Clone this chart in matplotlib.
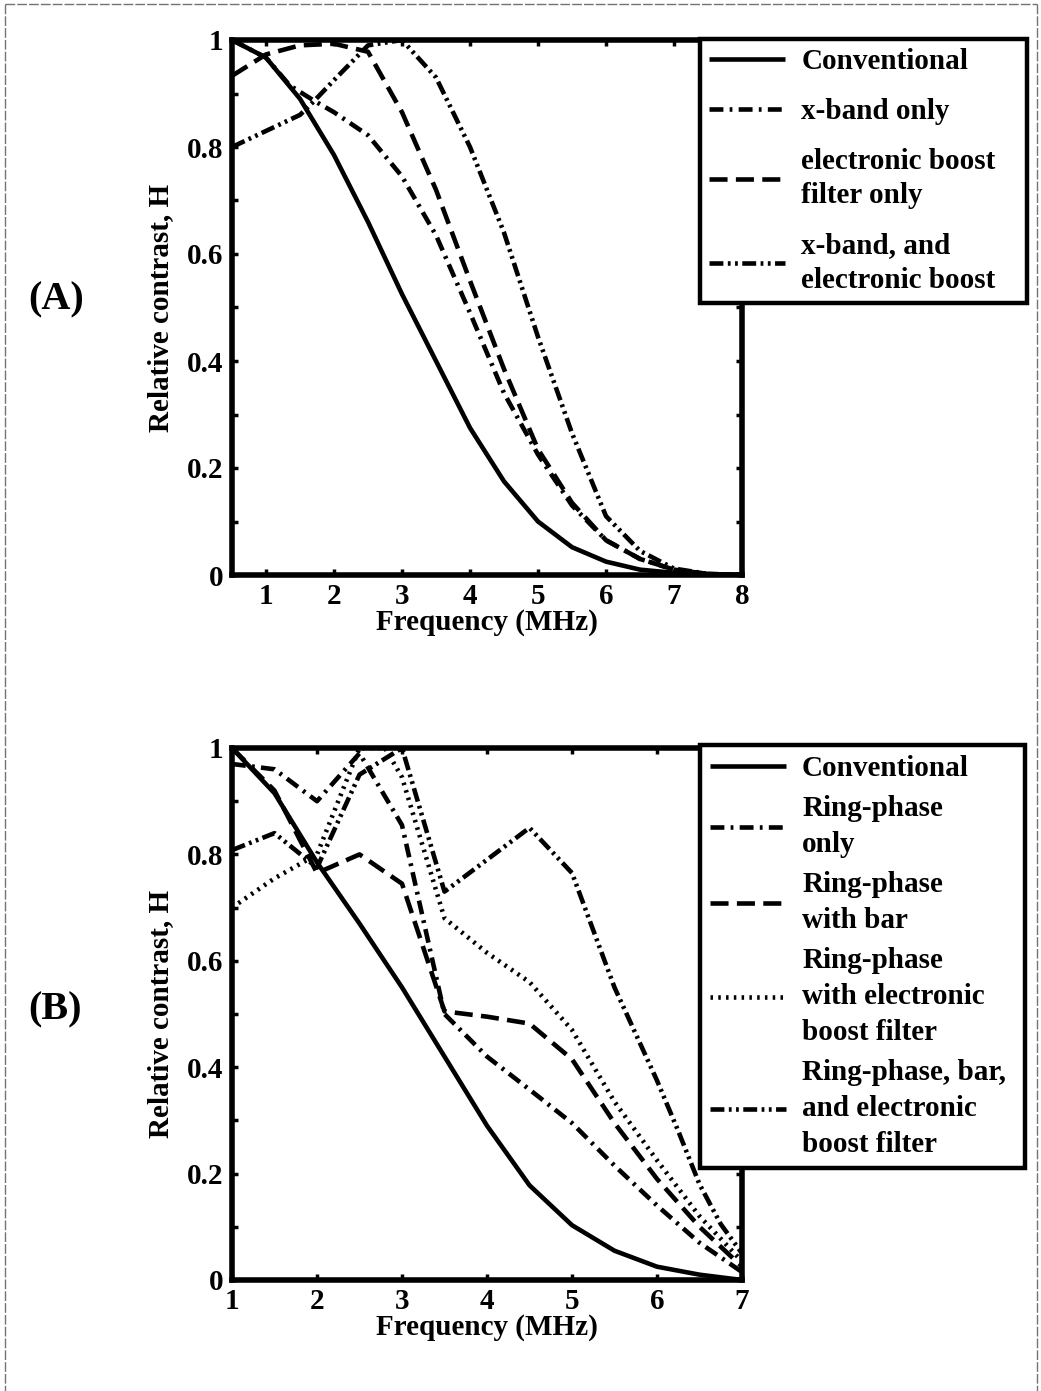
import matplotlib
matplotlib.use("Agg")
import matplotlib.pyplot as plt
from matplotlib.lines import Line2D
from matplotlib.ticker import MultipleLocator, FixedLocator, FixedFormatter

plt.rcParams['font.family'] = ['Liberation Serif', 'DejaVu Serif']
plt.rcParams['font.weight'] = 'bold'
plt.rcParams['lines.scale_dashes'] = False

# ---------------- Panel A: relative contrast vs frequency ----------------
a_freq = [0.5, 1.0, 1.5, 2.0, 2.5, 3.0, 3.5, 4.0, 4.5, 5.0, 5.5, 6.0, 6.5, 7.0, 7.5, 8.0]
a_conventional = [1.0, 0.967, 0.89, 0.785, 0.66, 0.525, 0.40, 0.275, 0.175, 0.10,
                  0.052, 0.025, 0.01, 0.004, 0.001, 0.0]
a_boost_only = [0.933, 0.973, 0.99, 0.993, 0.978, 0.865, 0.72, 0.55, 0.385, 0.235,
                0.135, 0.065, 0.03, 0.01, 0.002, 0.0]
a_xband_freq = [0.5, 1.0, 1.35, 1.7, 2.0, 2.5, 3.0, 3.5, 4.0, 4.5, 5.0, 5.5, 6.0, 6.5,
                7.0, 7.5, 8.0]
a_xband_only = [1.0, 0.967, 0.915, 0.887, 0.865, 0.822, 0.745, 0.635, 0.49, 0.34, 0.225,
                0.13, 0.065, 0.03, 0.01, 0.002, 0.0]
a_xband_boost_freq = [0.5, 1.0, 1.5, 1.7, 2.0, 2.5, 3.0, 3.5, 4.0, 4.5, 5.0, 5.5, 6.0,
                      6.5, 7.0, 7.5, 8.0]
a_xband_boost = [0.80, 0.83, 0.86, 0.885, 0.925, 0.99, 1.0, 0.93, 0.80, 0.64, 0.445,
                 0.265, 0.11, 0.045, 0.012, 0.002, 0.0]

a_labels = ["Conventional", "x-band only", "electronic boost\nfilter only",
            "x-band, and\nelectronic boost"]

# ---------------- Panel B ----------------
b_freq = [1.0, 1.5, 2.0, 2.5, 3.0, 3.5, 4.0, 4.5, 5.0, 5.5, 6.0, 6.5, 7.0]
b_conventional = [1.0, 0.915, 0.785, 0.67, 0.55, 0.42, 0.29, 0.178, 0.103, 0.055,
                  0.025, 0.01, 0.0]
b_ring_only = [0.97, 0.96, 0.90, 0.99, 0.855, 0.50, 0.42, 0.358, 0.295, 0.215, 0.14,
               0.07, 0.015]
b_ring_bar = [1.0, 0.92, 0.765, 0.80, 0.745, 0.505, 0.495, 0.482, 0.415, 0.295, 0.19,
              0.10, 0.025]
b_ring_boost_freq = [1.0, 1.5, 2.0, 2.5, 2.8, 3.0, 3.5, 4.0, 4.5, 5.0, 5.5, 6.0, 6.5, 7.0]
b_ring_boost = [0.70, 0.755, 0.80, 1.0, 1.0, 0.945, 0.68, 0.615, 0.56, 0.47, 0.335,
                0.225, 0.12, 0.035]
b_ring_all_freq = [1.0, 1.5, 2.0, 2.5, 3.0, 3.5, 4.0, 4.5, 5.0, 5.5, 6.0, 6.25, 6.5,
                   6.75, 7.0]
b_ring_all = [0.808, 0.84, 0.775, 0.95, 1.0, 0.73, 0.79, 0.85, 0.765, 0.55, 0.375,
              0.28, 0.18, 0.105, 0.05]

b_labels = ["Conventional", "Ring-phase\nonly", "Ring-phase\nwith bar",
            "Ring-phase\nwith electronic\nboost filter",
            "Ring-phase, bar,\nand electronic\nboost filter"]

y_ticks = [0, 0.2, 0.4, 0.6, 0.8, 1.0]
y_ticklabels = ["0", "0.2", "0.4", "0.6", "0.8", "1"]

# line styles (in points)
SOLID = '-'
DASHED = (0, (13, 6))
DASHDOT = (0, (10, 4.5, 2, 4.5))
DASHDOTDOT = (0, (10, 3.2, 2, 3.2, 2, 3.2))
DOTTED = (0, (1.8, 3.8))

FS = 21
W, H = 1041, 1391
fig = plt.figure(figsize=(W / 100, H / 100), dpi=100)


def axes_px(left, top, right, bottom):
    return fig.add_axes([left / W, 1 - bottom / H, (right - left) / W, (bottom - top) / H])


def style_axes(ax, xlim, xticks):
    ax.set_xlim(*xlim)
    ax.set_ylim(0, 1)
    ax.xaxis.set_major_locator(FixedLocator(xticks))
    ax.set_xticklabels([str(t) for t in xticks])
    ax.yaxis.set_major_locator(FixedLocator(y_ticks))
    ax.yaxis.set_major_formatter(FixedFormatter(y_ticklabels))
    ax.yaxis.set_minor_locator(MultipleLocator(0.1))
    ax.tick_params(which='both', direction='in', top=True, right=True,
                   length=4, width=2.5, labelsize=FS, pad=6)
    for lab in ax.get_xticklabels() + ax.get_yticklabels():
        lab.set_fontweight('bold')
    for sp in ax.spines.values():
        sp.set_linewidth(4)
    ax.set_xlabel("Frequency (MHz)", fontsize=FS, fontweight='bold')
    ax.set_ylabel("Relative contrast, H", fontsize=FS, fontweight='bold')
    ax.xaxis.set_label_coords(0.5, -0.063)
    ax.yaxis.set_label_coords(-0.114, 0.5)


def add_legend(ax, top_px, right_px, spacing, line_gap, pad):
    leg = ax.legend(loc='upper left',
                    bbox_to_anchor=(700 / W, 1 - top_px / H, (right_px - 700) / W, 0),
                    bbox_transform=fig.transFigure, mode='expand', fontsize=FS,
                    frameon=True, fancybox=False, framealpha=1, edgecolor='black',
                    handlelength=2.6, handletextpad=0.55, borderpad=pad,
                    labelspacing=spacing, borderaxespad=0)
    leg.get_frame().set_linewidth(3.2)
    for t in leg.get_texts():
        t.set_fontweight('bold')
        t.set_linespacing(line_gap)
    leg.set_zorder(10)
    return leg


LW = 3.3
kw = dict(color='black', lw=LW, dash_capstyle='butt', solid_capstyle='butt')

# ---- Panel A ----
axA = axes_px(232, 40, 742, 575)
axA.plot(a_freq, a_conventional, linestyle=SOLID, label=a_labels[0], **kw)
axA.plot(a_xband_freq, a_xband_only, linestyle=DASHDOT, label=a_labels[1], **kw)
axA.plot(a_freq, a_boost_only, linestyle=DASHED, label=a_labels[2], **kw)
axA.plot(a_xband_boost_freq, a_xband_boost, linestyle=DASHDOTDOT, label=a_labels[3], **kw)
style_axes(axA, (0.5, 8), [1, 2, 3, 4, 5, 6, 7, 8])
add_legend(axA, 39, 1027, 0.78, 1.36, 0.32)

# ---- Panel B ----
axB = axes_px(232, 748, 742, 1280)
axB.plot(b_freq, b_conventional, linestyle=SOLID, label=b_labels[0], **kw)
axB.plot(b_freq, b_ring_only, linestyle=DASHDOT, label=b_labels[1], **kw)
axB.plot(b_freq, b_ring_bar, linestyle=DASHED, label=b_labels[2], **kw)
axB.plot(b_ring_boost_freq, b_ring_boost, linestyle=DOTTED, label=b_labels[3], **kw)
axB.plot(b_ring_all_freq, b_ring_all, linestyle=DASHDOTDOT, label=b_labels[4], **kw)
style_axes(axB, (1, 7), [1, 2, 3, 4, 5, 6, 7])
add_legend(axB, 745, 1025, 0.45, 1.42, 0.35)

# panel letters
fig.text(28 / W, 1 - 300 / H, "(A)", fontsize=29, fontweight='bold', va='center', ha='left')
fig.text(28 / W, 1 - 1010 / H, "(B)", fontsize=29, fontweight='bold', va='center', ha='left')

# thin page frame
frame_kw = dict(color='0.45', lw=1.0, linestyle=(0, (7, 1.5)), transform=fig.transFigure)
fig.add_artist(Line2D([5 / W, 1037 / W], [1 - 4 / H, 1 - 4 / H], **frame_kw))
fig.add_artist(Line2D([5 / W, 5 / W], [1 - 4 / H, 0], **frame_kw))
fig.add_artist(Line2D([1037 / W, 1037 / W], [1 - 4 / H, 0], **frame_kw))

fig.savefig("out.png", dpi=100, facecolor='white')
